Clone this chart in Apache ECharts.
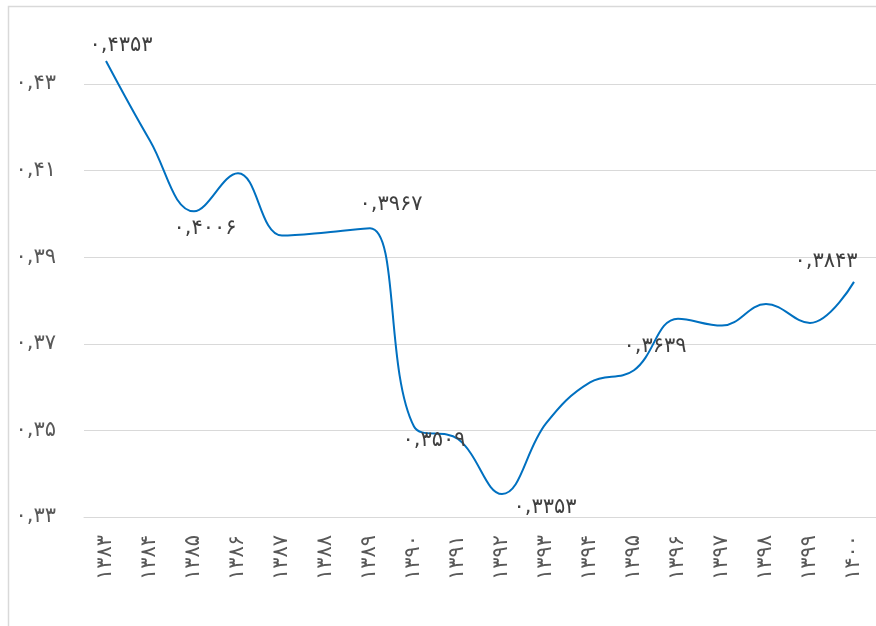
<!DOCTYPE html>
<html>
<head>
<meta charset="utf-8">
<script src="https://cdn.jsdelivr.net/npm/echarts@6/dist/echarts.min.js"></script>
<style>
    html, body { margin: 0; padding: 0; background: #fff; }
    #chart { width: 876px; height: 626px; }
</style>
</head>
<body>
<div id="chart"></div>
<script>
// years (Persian calendar) and index values
const years = ['۱۳۸۳','۱۳۸۴','۱۳۸۵','۱۳۸۶','۱۳۸۷','۱۳۸۸','۱۳۸۹','۱۳۹۰','۱۳۹۱',
               '۱۳۹۲','۱۳۹۳','۱۳۹۴','۱۳۹۵','۱۳۹۶','۱۳۹۷','۱۳۹۸','۱۳۹۹','۱۴۰۰'];
const values = [0.4353, 0.4169, 0.4006, 0.4094, 0.3950, 0.3957, 0.3967, 0.3509, 0.3480,
                0.3353, 0.3516, 0.3611, 0.3639, 0.3758, 0.3742, 0.3792, 0.3748, 0.3843];
// which points carry a value label
const labelled = [0, 2, 6, 7, 9, 12, 17];
const yTicks = [0.33, 0.35, 0.37, 0.39, 0.41, 0.43];

const FONT = "'DejaVu Sans', sans-serif";

function fa(str){
    return String(str).replace(/\d/g, d => '۰۱۲۳۴۵۶۷۸۹'[d]).replace('.', ',');
}

// label placement per labelled point
const labelPos = {
    0:  { position:'top',    offset:[15, 0] },
    2:  { position:'bottom', offset:[11, 2] },
    6:  { position:'top',    offset:[21, -8] },
    7:  { position:'bottom', offset:[20, -2] },
    9:  { position:'bottom', offset:[43, -2] },
    12: { position:'top',    offset:[21, -8] },
    17: { position:'top',    offset:[-28, -5] }
};

const seriesData = values.map((v, i) => {
    const item = { value: v };
    if (labelled.indexOf(i) >= 0) {
        item.label = Object.assign({
            show: true,
            formatter: p => fa(p.value.toFixed(4)),
            fontSize: 21,
            color: '#404040',
            fontFamily: FONT
        }, labelPos[i]);
    }
    return item;
});

const chart = echarts.init(document.getElementById('chart'));
chart.setOption({
    animation: false,
    backgroundColor: '#fff',
    graphic: [{
        type: 'rect',
        shape: { x: 8.5, y: 6.5, width: 900, height: 700 },
        style: { fill: 'none', stroke: '#d9d9d9', lineWidth: 1.5 },
        silent: true
    }],
    grid: {
        left: 84,
        right: -4,
        top: 84,
        bottom: 109
    },
    xAxis: {
        type: 'category',
        data: years,
        boundaryGap: true,
        axisLine: { lineStyle: { color: '#d9d9d9' } },
        axisTick: { show: false },
        axisLabel: {
            rotate: 90,
            margin: 18,
            fontSize: 21,
            color: '#595959',
            fontFamily: FONT
        }
    },
    yAxis: {
        type: 'value',
        min: yTicks[0],
        max: yTicks[yTicks.length - 1],
        interval: 0.02,
        axisLine: { show: false },
        axisTick: { show: false },
        axisLabel: {
            margin: 28,
            fontSize: 21,
            color: '#595959',
            fontFamily: FONT,
            formatter: v => fa(v.toFixed(2))
        },
        splitLine: { lineStyle: { color: '#d9d9d9', width: 1 } }
    },
    series: [{
        type: 'line',
        data: seriesData,
        smooth: 0.4,
        clip: false,
        symbol: 'circle',
        symbolSize: 0.1,
        showSymbol: true,
        lineStyle: { color: '#0070c0', width: 2 },
        itemStyle: { color: '#0070c0' }
    }]
});
</script>
</body>
</html>
